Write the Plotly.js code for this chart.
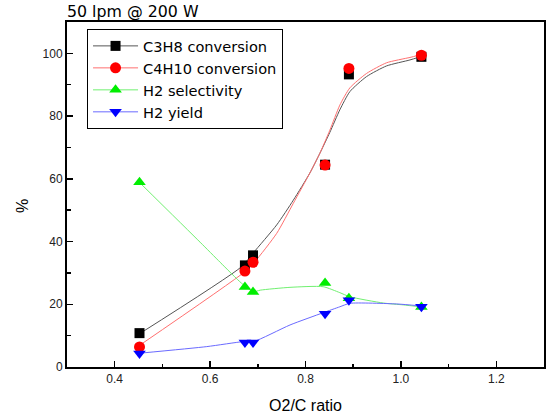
<!DOCTYPE html>
<html>
<head>
<meta charset="utf-8">
<script src="https://cdn.plot.ly/plotly-3.0.1.min.js"></script>
<style>
html,body{margin:0;padding:0;background:#fff;}
#chart{width:546px;height:419px;}
</style>
</head>
<body>
<div id="chart"></div>
<script>
// measured points
var o2cRatio = [0.452, 0.673, 0.690, 0.841, 0.891, 1.043];
var c3h8Conversion = [10.8, 32.4, 35.6, 64.5, 93.3, 98.9];
var c4h10Conversion = [6.4, 30.6, 33.4, 64.4, 95.2, 99.4];
var h2Selectivity = [58.9, 25.5, 23.9, 26.8, 21.9, 19.1];
var h2Yield = [4.3, 7.8, 7.8, 17.0, 21.3, 19.2];

// smoothed curves as drawn in the original figure
var c3h8CurveX = [0.453, 0.666, 0.690, 0.7396, 0.7745, 0.809, 0.830, 0.851, 0.872, 0.893, 0.928, 0.970, 1.019, 1.040];
var c3h8CurveY = [10.7, 32.0, 36.3, 45.3, 53.2, 61.8, 68.1, 74.8, 82.0, 87.8, 92.6, 96.0, 97.9, 98.9];
var c4h10CurveX = [0.453, 0.673, 0.694, 0.7396, 0.7745, 0.809, 0.830, 0.851, 0.872, 0.893, 0.928, 0.970, 1.019, 1.040];
var c4h10CurveY = [7.0, 30.4, 33.6, 42.6, 52.2, 61.8, 68.1, 75.5, 83.5, 89.0, 93.6, 97.0, 98.7, 99.5];
var h2SelCurveX = [0.453, 0.579, 0.621, 0.666, 0.691, 0.705, 0.7675, 0.837, 0.872, 0.893, 0.963, 1.005, 1.040];
var h2SelCurveY = [58.7, 39.8, 33.4, 26.7, 24.0, 24.5, 25.4, 25.6, 23.7, 22.4, 20.4, 19.8, 19.2];
var h2YieldCurveX = [0.453, 0.593, 0.670, 0.691, 0.7675, 0.837, 0.872, 0.893, 0.991, 1.040];
var h2YieldCurveY = [4.4, 6.5, 8.1, 8.1, 13.4, 17.3, 19.2, 20.3, 20.1, 19.5];

var seriesNames = ['C3H8 conversion', 'C4H10 conversion', 'H2 selectivity', 'H2 yield'];
var xTickVals = [0.4, 0.6, 0.8, 1.0, 1.2];
var xTickText = ['0.4', '0.6', '0.8', '1.0', '1.2'];
var yTickVals = [0, 20, 40, 60, 80, 100];

var font = 'Liberation Sans, Arial, sans-serif';
var wideFont = 'DejaVu Sans, Liberation Sans, sans-serif';

var styles = [
  {line: '#555555', marker: '#000000', symbol: 'square', size: 10},
  {line: '#ff7070', marker: '#ff0000', symbol: 'circle', size: 11},
  {line: '#70f070', marker: '#00ee00', symbol: 'triangle-up', size: 11},
  {line: '#6a6aff', marker: '#0000ff', symbol: 'triangle-down', size: 11}
];
var curves = [[c3h8CurveX, c3h8CurveY], [c4h10CurveX, c4h10CurveY], [h2SelCurveX, h2SelCurveY], [h2YieldCurveX, h2YieldCurveY]];
var points = [c3h8Conversion, c4h10Conversion, h2Selectivity, h2Yield];

var data = [];
curves.forEach(function (c, i) {
  data.push({x: c[0], y: c[1], type: 'scatter', mode: 'lines', showlegend: false, hoverinfo: 'skip',
    legendgroup: 'g' + i, line: {color: styles[i].line, width: 1, shape: 'spline', smoothing: 0.6}});
});
points.forEach(function (p, i) {
  data.push({x: o2cRatio, y: p, type: 'scatter', mode: 'markers', showlegend: false, name: seriesNames[i],
    legendgroup: 'g' + i, marker: {color: styles[i].marker, symbol: styles[i].symbol, size: styles[i].size, line: {width: 0}}});
});
seriesNames.forEach(function (n, i) {
  data.push({x: [null], y: [null], type: 'scatter', mode: 'lines+markers', name: n, legendgroup: 'g' + i,
    line: {color: styles[i].line, width: 1},
    marker: {color: styles[i].marker, symbol: styles[i].symbol, size: styles[i].size, line: {width: 0}}});
});

var axisCommon = {
  showgrid: false, zeroline: false, showline: true, linecolor: '#000', linewidth: 2,
  mirror: true, ticks: 'inside', tickcolor: '#000', tickwidth: 1.5, ticklen: 6,
  tickfont: {family: font, size: 12, color: '#222'},
  minor: {ticks: 'inside', ticklen: 3.5, tickwidth: 1.5, tickcolor: '#000', showgrid: false}
};

var layout = {
  width: 546, height: 419,
  margin: {l: 67, r: 2, t: 22, b: 52},
  paper_bgcolor: '#fff', plot_bgcolor: '#fff',
  showlegend: true,
  xaxis: Object.assign({}, axisCommon, {
    range: [0.3, 1.3], tickmode: 'array', tickvals: xTickVals, ticktext: xTickText,
    minor: Object.assign({}, axisCommon.minor, {dtick: 0.1, tick0: 0.3}),
    title: {text: 'O2/C ratio', font: {family: font, size: 16, color: '#000'}, standoff: 14}
  }),
  yaxis: Object.assign({}, axisCommon, {
    range: [0, 110], tickmode: 'array', tickvals: yTickVals,
    minor: Object.assign({}, axisCommon.minor, {dtick: 10, tick0: 0}),
    title: {text: ''}
  }),
  legend: {
    x: 0.042, y: 0.98, xanchor: 'left', yanchor: 'top',
    bgcolor: '#fff', bordercolor: '#000', borderwidth: 1,
    font: {family: wideFont, size: 14.6, color: '#000'},
    itemwidth: 45, tracegroupgap: 0
  },
  annotations: [{
    text: '50 lpm @ 200 W', xref: 'paper', yref: 'paper', x: 0, y: 1,
    xanchor: 'left', yanchor: 'bottom', showarrow: false, yshift: -1, xshift: -2,
    font: {family: wideFont, size: 15.8, color: '#000'}
  }, {
    text: '%', xref: 'paper', yref: 'paper', x: -0.092, y: 0.467,
    xanchor: 'center', yanchor: 'middle', textangle: -90, showarrow: false,
    font: {family: font, size: 16, color: '#000'}
  }]
};

Plotly.newPlot('chart', data, layout, {displayModeBar: false, staticPlot: true});
</script>
</body>
</html>
